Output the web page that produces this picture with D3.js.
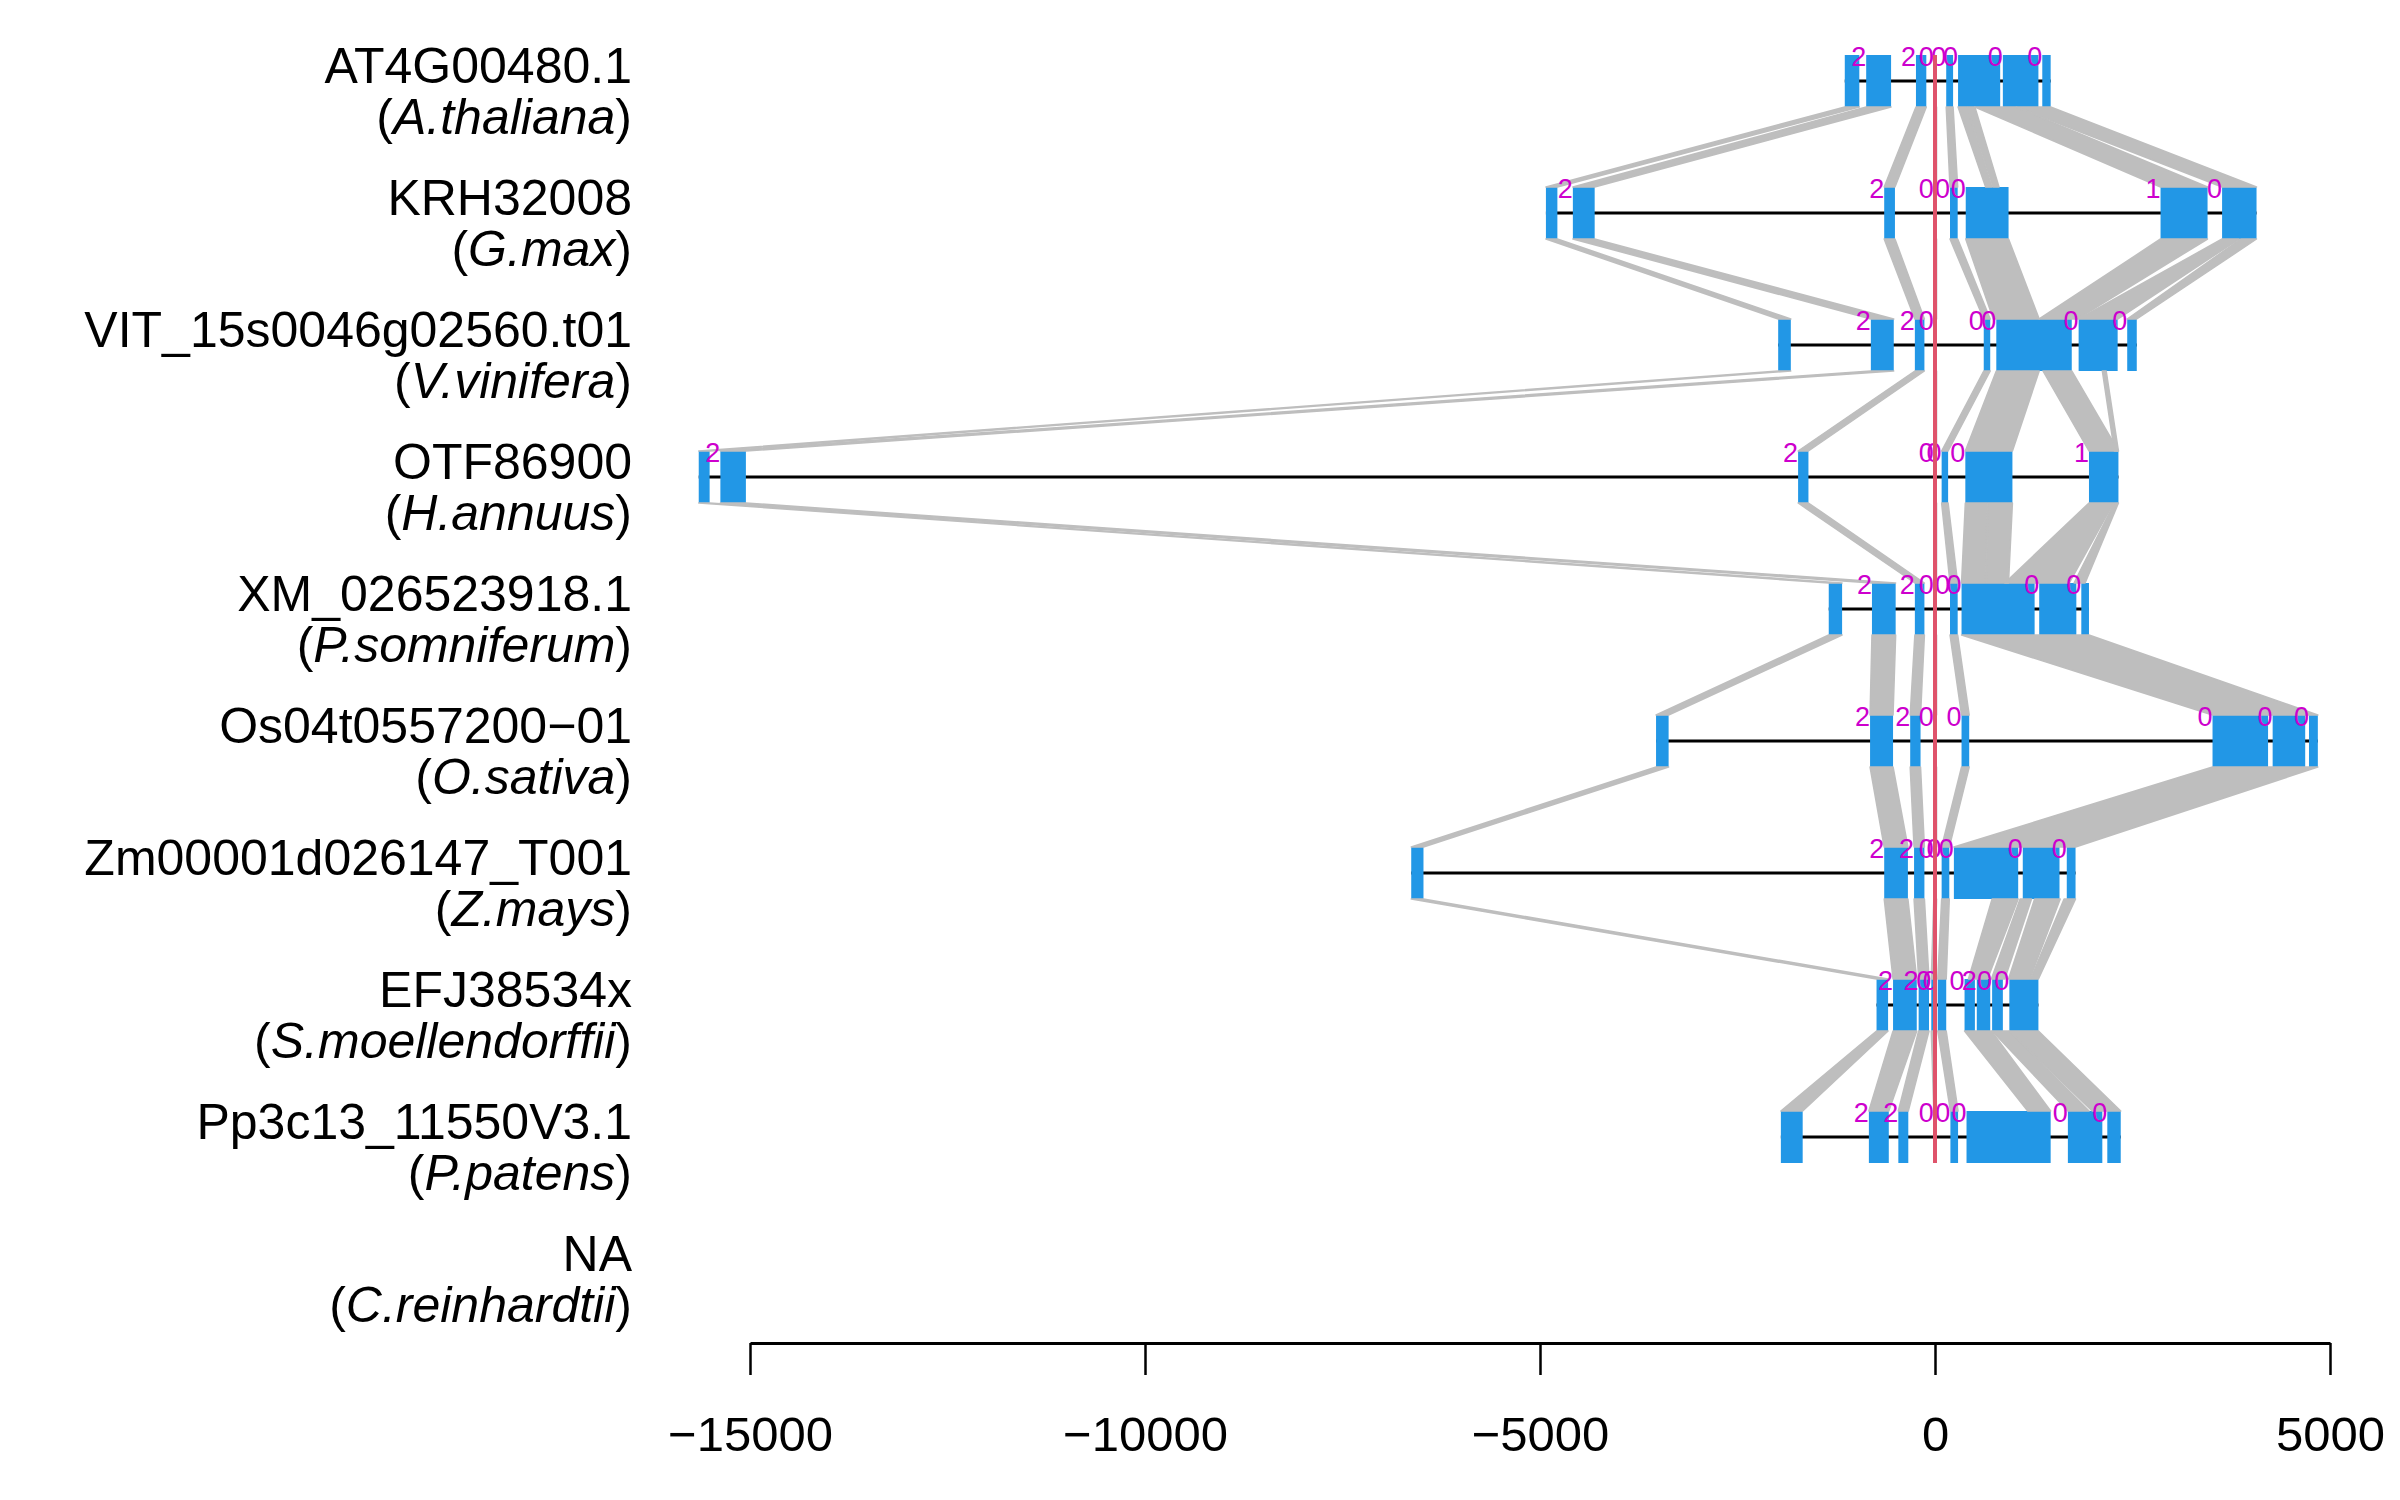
<!DOCTYPE html>
<html>
<head>
<meta charset="utf-8">
<script src="https://cdn.jsdelivr.net/npm/d3@7"></script>
<style>
body{margin:0;background:#fff}
text{font-family:"Liberation Sans",Arial,sans-serif}
</style>
</head>
<body>
<div id="chart"></div>
<script>
var geneIds = ["AT4G00480.1","KRH32008","VIT_15s0046g02560.t01","OTF86900","XM_026523918.1",
  "Os04t0557200\u221201","Zm00001d026147_T001","EFJ38534x","Pp3c13_11550V3.1","NA"]
var species = ["A.thaliana","G.max","V.vinifera","H.annuus","P.somniferum",
  "O.sativa","Z.mays","S.moellendorffii","P.patens","C.reinhardtii"]

// exon start / end positions (bp, relative to the anchor exon)
var exonStarts = [
  [-1142,-871,-241,-15,142,292,859,1358],
  [-4925,-4584,-643,-15,190,389,2855,3634],
  [-1985,-812,-255,-15,617,776,1818,2433],
  [-15649,-15375,-1733,-15,84,384,1949],
  [-1345,-798,-255,-15,190,336,1319,1852],
  [-3531,-822,-314,-15,336,3513,4274,4734],
  [-6630,-643,-265,-15,84,239,1111,1668],
  [-740,-531,-207,-47,35,374,529,723,941],
  [-1951,-837,-464,-15,195,399,1682,2181],
  []
]
var exonEnds = [
  [-958,-556,-110,20,229,825,1309,1464],
  [-4780,-4308,-507,20,287,931,3450,4070],
  [-1825,-522,-134,20,699,1731,2312,2554],
  [-15511,-15052,-1602,20,166,980,2322],
  [-1176,-498,-134,20,287,1261,1789,1949],
  [-3372,-531,-183,20,433,4216,4686,4846],
  [-6475,-343,-134,20,181,1053,1576,1779],
  [-594,-231,-76,-9,142,505,699,859,1309],
  [-1675,-585,-338,20,292,1464,2118,2351],
  []
]
// intron phases, one per intron
var phases = [
  [2,2,0,0,0,0,0],
  [2,2,0,0,0,1,0],
  [2,2,0,0,0,0,0],
  [2,2,0,0,0,1],
  [2,2,0,0,0,0,0],
  [2,2,0,0,0,0,0],
  [2,2,0,0,0,0,0],
  [2,2,0,0,0,2,0,0],
  [2,2,0,0,0,0,0],
  []
]

// homologous segments: [upper row, upper start, upper end, lower start, lower end]
var links = [
  [0,-1142,-958,-4925,-4780],[0,-871,-556,-4584,-4308],[0,-241,-110,-643,-507],[0,-15,20,-15,20],
  [0,142,229,190,287],[0,292,400,641,720],[0,410,505,735,810],[0,505,1020,2855,3450],[0,1030,1464,3634,4070],
  [1,-4925,-4780,-1985,-1825],[1,-4584,-4308,-812,-522],[1,-643,-507,-255,-134],[1,-15,20,-15,20],
  [1,190,287,617,699],[1,389,931,738,1319],[1,2855,3450,1319,1800],[1,3634,3850,1818,2312],[1,3870,4070,2433,2554],
  [2,-1985,-1825,-15649,-15511],[2,-812,-522,-15375,-15052],[2,-255,-134,-1733,-1602],[2,-15,20,-15,20],
  [2,617,699,84,166],[2,776,1319,384,980],[2,1367,1731,1949,2322],[2,2118,2167,2270,2322],
  [3,-15649,-15511,-1345,-1176],[3,-15375,-15052,-798,-498],[3,-1733,-1602,-255,-134],[3,-15,20,-15,20],
  [3,84,166,190,287],[3,384,660,336,640],[3,670,980,650,930],[3,1949,2260,883,1700],[3,2270,2322,1760,1900],
  [4,-1345,-1176,-3531,-3372],[4,-798,-498,-822,-531],[4,-255,-134,-314,-183],[4,-15,20,-15,20],
  [4,190,287,336,433],[4,336,1949,3513,4846],
  [5,-3531,-3372,-6630,-6475],[5,-822,-531,-643,-343],[5,-314,-183,-265,-134],[5,-15,20,-15,20],
  [5,336,433,84,181],[5,3513,4846,239,1779],
  [6,-6630,-6475,-740,-594],[6,-643,-343,-531,-231],[6,-265,-134,-207,-76],[6,-15,20,-47,-9],
  [6,84,181,35,142],[6,723,1053,423,665],[6,1077,1222,714,883],[6,1261,1585,931,1200],[6,1634,1779,1210,1309],
  [7,-740,-594,-1951,-1675],[7,-531,-231,-837,-585],[7,-207,-76,-464,-338],[7,-47,-9,-15,20],
  [7,35,142,195,292],[7,374,714,1174,1464],[7,723,940,1682,1950],[7,941,1309,1990,2351]
]

var axisTicks = [-15000,-10000,-5000,0,5000]
var tickLabels = ["\u221215000","\u221210000","\u22125000","0","5000"]

var svg = d3.select("#chart")
.append("svg")
.attr("width",2400)
.attr("height",1500)
.style("background","#fff")

var xScale = d3.scaleLinear()
.domain([-15000,5000])
.range([750,2330])

var yScale = d3.scalePoint()
.domain(d3.range(geneIds.length))
.range([81,1269])

var half = 26

var exons = []
exonStarts.forEach(function(s,i){
    s.forEach(function(v,j){
        exons.push({row:i, start:v, end:exonEnds[i][j], phase: j>0 ? phases[i][j-1] : null})
    })
})

// gene backbones
var rows = d3.range(geneIds.length).filter(function(i){return exonStarts[i].length>0})
svg.append("g").selectAll("line")
.data(rows)
.join("line")
.attr("x1",function(i){return xScale(exonStarts[i][0])})
.attr("x2",function(i){return xScale(d3.max(exonEnds[i]))})
.attr("y1",function(i){return yScale(i)})
.attr("y2",function(i){return yScale(i)})
.attr("stroke","#000")
.attr("stroke-width",3)

// exons
svg.append("g").selectAll("rect")
.data(exons)
.join("rect")
.attr("x",function(d){return xScale(d.start)})
.attr("width",function(d){return Math.max(1,xScale(d.end)-xScale(d.start))})
.attr("y",function(d){return yScale(d.row)-half})
.attr("height",half*2)
.attr("fill","#2297E6")

// homology links
svg.append("g").selectAll("polygon")
.data(links)
.join("polygon")
.attr("points",function(d){
    var y0 = yScale(d[0])+half, y1 = yScale(d[0]+1)-half
    return [[xScale(d[1]),y0],[xScale(d[2]),y0],[xScale(d[4]),y1],[xScale(d[3]),y1]].join(" ")
})
.attr("fill","#BEBEBE")
.attr("stroke","#BEBEBE")
.attr("stroke-width",1.5)
.attr("stroke-linejoin","round")

// phase labels
svg.append("g").selectAll("text")
.data(exons.filter(function(d){return d.phase!==null}))
.join("text")
.text(function(d){return d.phase})
.attr("x",function(d){return xScale(d.start)})
.attr("y",function(d){return yScale(d.row)-15})
.attr("text-anchor","end")
.attr("font-size",27)
.attr("fill","#CD00CD")

// gene names
var names = svg.append("g")
geneIds.forEach(function(g,i){
    names.append("text")
    .text(g)
    .attr("x",632)
    .attr("y",yScale(i)+2)
    .attr("text-anchor","end")
    .attr("font-size",50)
    var sp = names.append("text")
    .attr("x",632)
    .attr("y",yScale(i)+53)
    .attr("text-anchor","end")
    .attr("font-size",50)
    sp.append("tspan").text("(")
    sp.append("tspan").text(species[i]).attr("font-style","italic")
    sp.append("tspan").text(")")
})

// axis
var xAxis = d3.axisBottom(xScale)
.tickValues(axisTicks)
.tickSize(32)
.tickSizeOuter(0)
.tickPadding(41)
.tickFormat(function(d){return tickLabels[axisTicks.indexOf(d)]})

var ax = svg.append("g")
.attr("transform","translate(0,1343)")
.call(xAxis)
.attr("font-size",49)
.attr("font-family","Liberation Sans, Arial, sans-serif")
ax.select(".domain").attr("stroke-width",3)
ax.selectAll(".tick line").attr("stroke-width",2.5)

// anchor line at 0
svg.append("line")
.attr("x1",xScale(0)).attr("x2",xScale(0))
.attr("y1",yScale(0)-half).attr("y2",yScale(8)+half)
.attr("stroke","#DF536B")
.attr("stroke-width",4)
</script>
</body>
</html>
